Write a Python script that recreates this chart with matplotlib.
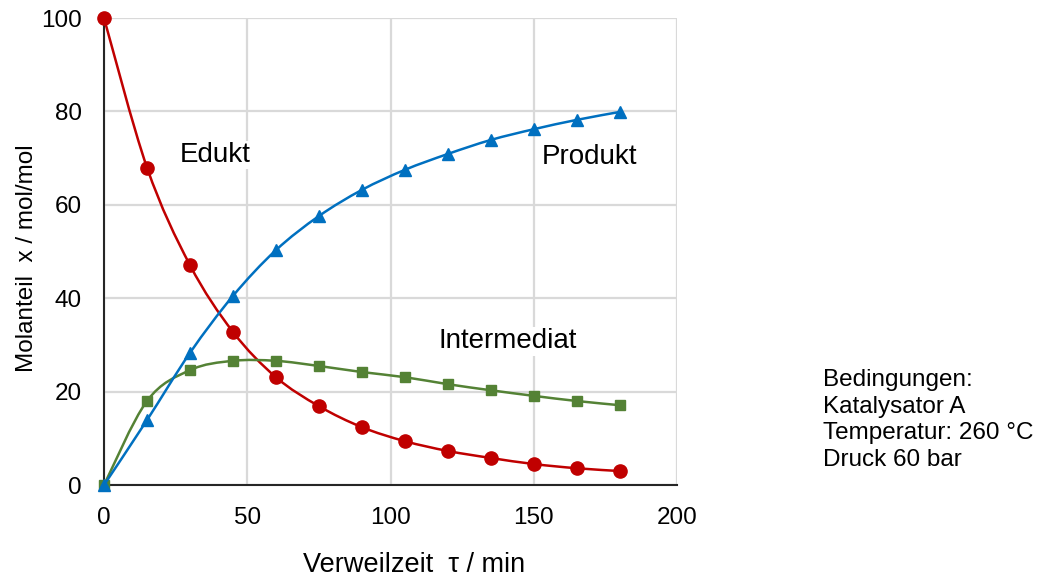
import numpy as np
import matplotlib
matplotlib.use("Agg")
import matplotlib.pyplot as plt
from matplotlib.path import Path
from matplotlib.patches import PathPatch

plt.rcParams['font.family'] = ['Liberation Sans', 'DejaVu Sans']

# Verweilzeit in min
tau = [0, 15, 30, 45, 60, 75, 90, 105, 120, 135, 150, 165, 180]
edukt = [100, 68.0, 47.1, 32.8, 23.1, 16.9, 12.4, 9.4, 7.3, 5.8, 4.5, 3.6, 3.0]
produkt = [0, 13.9, 28.3, 40.5, 50.3, 57.6, 63.2, 67.5, 70.9, 73.9, 76.2, 78.2, 79.9]
intermediat = [0, 18.0, 24.6, 26.6, 26.6, 25.5, 24.2, 23.1, 21.6, 20.3, 19.1, 18.0, 17.1]

bedingungen = "Bedingungen:\nKatalysator A\nTemperatur: 260 °C\nDruck 60 bar"


def smooth_path(x, y):
    # Excel-artige Glättung: Bezier-Segmente mit Catmull-Rom Kontrollpunkten
    p = np.column_stack([x, y]).astype(float)
    n = len(p)
    verts = [p[0]]
    codes = [Path.MOVETO]
    for i in range(n - 1):
        p0 = p[i - 1] if i > 0 else p[i]
        p3 = p[i + 2] if i + 2 < n else p[i + 1]
        c1 = p[i] + (p[i + 1] - p0) / 6.0
        c2 = p[i + 1] - (p3 - p[i]) / 6.0
        verts += [c1, c2, p[i + 1]]
        codes += [Path.CURVE4] * 3
    return Path(verts, codes)


fig = plt.figure(figsize=(10.4, 5.83), dpi=100)
ax = fig.add_axes([0.1, 0.168, 0.551, 0.801])

series = [
    (edukt, '#C00000', 'o', 9.5),
    (intermediat, '#548235', 's', 7.5),
    (produkt, '#0070C0', '^', 8.5),
]
for k, (vals, col, mk, ms) in enumerate(series):
    patch = PathPatch(smooth_path(tau, vals), facecolor='none', edgecolor=col,
                      lw=1.8, zorder=3 + k, clip_on=False)
    ax.add_patch(patch)
    ax.plot(tau, vals, linestyle='none', marker=mk, ms=ms, color=col,
            mec=col, zorder=3 + k, clip_on=False)

ax.set_xlim(0, 200)
ax.set_ylim(0, 100)
ax.set_xticks(range(0, 201, 50))
ax.set_yticks(range(0, 101, 20))
ax.grid(True, color='#D9D9D9', lw=1.6)
ax.set_axisbelow(True)
for s in ['top', 'right']:
    ax.spines[s].set_visible(False)
for s in ['left', 'bottom']:
    ax.spines[s].set_color('#262626')
    ax.spines[s].set_linewidth(1.5)
    ax.spines[s].set_zorder(2.5)
ax.tick_params(length=0, labelsize=17.5, colors='black')
ax.tick_params(axis='x', pad=16)
ax.tick_params(axis='y', pad=16)

# Achsenbeschriftungen
fig.text(414 / 1040, 1 - 565 / 583, 'Verweilzeit  τ / min', fontsize=19.5,
         ha='center', va='center')
fig.text(27 / 1040, 1 - 258 / 583, 'Molanteil  x / mol/mol', fontsize=17.5,
         ha='center', va='center', rotation=90)

ax.text(26.5, 70.7, 'Edukt', fontsize=20, va='center', ha='left',
        bbox=dict(facecolor='white', edgecolor='none', pad=1))
ax.text(152.9, 70.2, 'Produkt', fontsize=20, va='center', ha='left',
        bbox=dict(facecolor='white', edgecolor='none', pad=1))
ax.text(116.6, 30.8, 'Intermediat', fontsize=20, va='center', ha='left',
        bbox=dict(facecolor='white', edgecolor='none', pad=1))

fig.text(0.791, 1 - 369 / 583, bedingungen, fontsize=17.5, va='top', ha='left',
         linespacing=1.27)

fig.savefig('out.png', dpi=100)
